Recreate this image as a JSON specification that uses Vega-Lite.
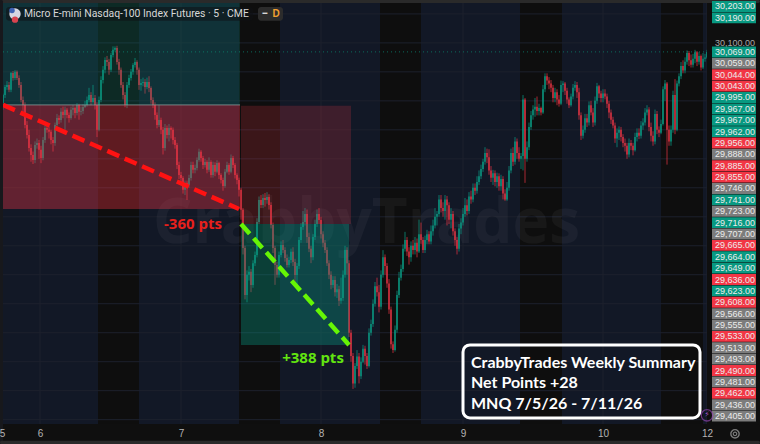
{"$schema":"https://vega.github.io/schema/vega-lite/v6.json","width":760,"height":444,"padding":0,"autosize":"none","background":"#0e0e10","view":{"stroke":null},
"datasets":{
"candles":[
{"t":6,"o":29893,"h":29925,"l":29870,"c":29920},{"t":10,"o":29920,"h":29955,"l":29910,"c":29948},{"t":14,"o":29948,"h":29968,"l":29938,"c":29955},{"t":18,"o":29955,"h":29965,"l":29930,"c":29938},{"t":22,"o":29938,"h":30000,"l":29930,"c":29996},{"t":26,"o":29996,"h":30003,"l":29970,"c":29979},{"t":30,"o":29979,"h":30006,"l":29972,"c":30000},{"t":34,"o":30000,"h":30005,"l":29972,"c":29979},{"t":38,"o":29979,"h":29988,"l":29945,"c":29955},{"t":42,"o":29955,"h":29965,"l":29895,"c":29903},{"t":46,"o":29903,"h":29915,"l":29860,"c":29886},{"t":50,"o":29886,"h":29895,"l":29805,"c":29817},{"t":54,"o":29817,"h":29830,"l":29770,"c":29782},{"t":58,"o":29782,"h":29800,"l":29725,"c":29737},{"t":62,"o":29737,"h":29750,"l":29690,"c":29713},{"t":66,"o":29713,"h":29725,"l":29682,"c":29696},{"t":70,"o":29696,"h":29760,"l":29685,"c":29748},{"t":74,"o":29748,"h":29770,"l":29735,"c":29755},{"t":78,"o":29755,"h":29765,"l":29700,"c":29731},{"t":82,"o":29731,"h":29745,"l":29685,"c":29703},{"t":86,"o":29703,"h":29775,"l":29695,"c":29765},{"t":90,"o":29765,"h":29815,"l":29755,"c":29806},{"t":94,"o":29806,"h":29820,"l":29790,"c":29800},{"t":98,"o":29800,"h":29812,"l":29770,"c":29793},{"t":102,"o":29793,"h":29800,"l":29750,"c":29765},{"t":106,"o":29765,"h":29775,"l":29725,"c":29755},{"t":110,"o":29755,"h":29825,"l":29745,"c":29817},{"t":114,"o":29817,"h":29855,"l":29810,"c":29841},{"t":118,"o":29841,"h":29850,"l":29820,"c":29834},{"t":122,"o":29834,"h":29875,"l":29825,"c":29862},{"t":126,"o":29862,"h":29880,"l":29840,"c":29851},{"t":130,"o":29851,"h":29880,"l":29800,"c":29869},{"t":134,"o":29869,"h":29875,"l":29840,"c":29851},{"t":138,"o":29851,"h":29860,"l":29825,"c":29841},{"t":142,"o":29841,"h":29880,"l":29835,"c":29869},{"t":146,"o":29869,"h":29885,"l":29850,"c":29875},{"t":150,"o":29875,"h":29880,"l":29840,"c":29858},{"t":154,"o":29858,"h":29892,"l":29850,"c":29886},{"t":158,"o":29886,"h":29890,"l":29835,"c":29862},{"t":162,"o":29862,"h":29880,"l":29850,"c":29865},{"t":166,"o":29865,"h":29888,"l":29855,"c":29879},{"t":170,"o":29879,"h":29900,"l":29875,"c":29886},{"t":174,"o":29886,"h":29915,"l":29880,"c":29903},{"t":178,"o":29903,"h":29945,"l":29895,"c":29920},{"t":182,"o":29920,"h":29930,"l":29885,"c":29896},{"t":186,"o":29896,"h":29955,"l":29890,"c":29910},{"t":190,"o":29910,"h":29920,"l":29870,"c":29886},{"t":194,"o":29886,"h":29895,"l":29775,"c":29800},{"t":198,"o":29800,"h":29915,"l":29795,"c":29903},{"t":202,"o":29903,"h":29985,"l":29895,"c":29972},{"t":206,"o":29972,"h":30020,"l":29960,"c":30007},{"t":210,"o":30007,"h":30050,"l":29995,"c":30041},{"t":214,"o":30041,"h":30055,"l":30020,"c":30034},{"t":218,"o":30034,"h":30045,"l":29990,"c":30007},{"t":222,"o":30007,"h":30065,"l":30000,"c":30058},{"t":226,"o":30058,"h":30088,"l":30050,"c":30076},{"t":230,"o":30076,"h":30088,"l":30070,"c":30082},{"t":234,"o":30082,"h":30090,"l":30025,"c":30034},{"t":238,"o":30034,"h":30045,"l":29990,"c":30007},{"t":242,"o":30007,"h":30015,"l":29945,"c":29955},{"t":246,"o":29955,"h":29965,"l":29905,"c":29920},{"t":250,"o":29920,"h":29930,"l":29878,"c":29886},{"t":254,"o":29886,"h":29965,"l":29875,"c":29955},{"t":258,"o":29955,"h":29990,"l":29945,"c":29979},{"t":262,"o":29979,"h":30010,"l":29970,"c":30000},{"t":266,"o":30000,"h":30030,"l":29990,"c":30024},{"t":270,"o":30024,"h":30048,"l":30015,"c":30034},{"t":274,"o":30034,"h":30040,"l":29990,"c":30007},{"t":278,"o":30007,"h":30015,"l":29938,"c":29955},{"t":282,"o":29955,"h":29975,"l":29935,"c":29962},{"t":286,"o":29962,"h":29980,"l":29950,"c":29965},{"t":290,"o":29965,"h":29975,"l":29925,"c":29948},{"t":294,"o":29948,"h":29980,"l":29940,"c":29965},{"t":298,"o":29965,"h":29985,"l":29930,"c":29944},{"t":302,"o":29944,"h":29950,"l":29890,"c":29903},{"t":306,"o":29903,"h":29912,"l":29875,"c":29886},{"t":310,"o":29886,"h":29895,"l":29835,"c":29851},{"t":314,"o":29851,"h":29860,"l":29805,"c":29817},{"t":318,"o":29817,"h":29885,"l":29810,"c":29834},{"t":322,"o":29834,"h":29842,"l":29785,"c":29800},{"t":326,"o":29800,"h":29810,"l":29715,"c":29737},{"t":330,"o":29737,"h":29820,"l":29728,"c":29806},{"t":334,"o":29806,"h":29815,"l":29770,"c":29782},{"t":338,"o":29782,"h":29820,"l":29760,"c":29806},{"t":342,"o":29806,"h":29812,"l":29770,"c":29800},{"t":346,"o":29800,"h":29808,"l":29750,"c":29765},{"t":350,"o":29765,"h":29775,"l":29735,"c":29748},{"t":354,"o":29748,"h":29755,"l":29665,"c":29679},{"t":358,"o":29679,"h":29690,"l":29630,"c":29644},{"t":362,"o":29644,"h":29655,"l":29610,"c":29634},{"t":366,"o":29634,"h":29640,"l":29580,"c":29593},{"t":370,"o":29593,"h":29625,"l":29575,"c":29617},{"t":374,"o":29617,"h":29625,"l":29558,"c":29610},{"t":378,"o":29610,"h":29645,"l":29600,"c":29634},{"t":382,"o":29634,"h":29690,"l":29625,"c":29679},{"t":386,"o":29679,"h":29690,"l":29650,"c":29662},{"t":390,"o":29662,"h":29680,"l":29650,"c":29668},{"t":394,"o":29668,"h":29705,"l":29660,"c":29696},{"t":398,"o":29696,"h":29735,"l":29690,"c":29724},{"t":402,"o":29724,"h":29730,"l":29690,"c":29703},{"t":406,"o":29703,"h":29710,"l":29665,"c":29679},{"t":410,"o":29679,"h":29700,"l":29670,"c":29689},{"t":414,"o":29689,"h":29695,"l":29650,"c":29662},{"t":418,"o":29662,"h":29705,"l":29655,"c":29689},{"t":422,"o":29689,"h":29695,"l":29635,"c":29644},{"t":426,"o":29644,"h":29690,"l":29635,"c":29679},{"t":430,"o":29679,"h":29688,"l":29640,"c":29655},{"t":434,"o":29655,"h":29695,"l":29650,"c":29686},{"t":438,"o":29686,"h":29690,"l":29630,"c":29644},{"t":442,"o":29644,"h":29650,"l":29615,"c":29627},{"t":446,"o":29627,"h":29635,"l":29590,"c":29606},{"t":450,"o":29606,"h":29665,"l":29600,"c":29655},{"t":454,"o":29655,"h":29690,"l":29650,"c":29679},{"t":458,"o":29679,"h":29685,"l":29645,"c":29655},{"t":462,"o":29655,"h":29715,"l":29650,"c":29703},{"t":466,"o":29703,"h":29710,"l":29668,"c":29679},{"t":470,"o":29679,"h":29685,"l":29632,"c":29644},{"t":474,"o":29644,"h":29650,"l":29612,"c":29627},{"t":478,"o":29627,"h":29635,"l":29570,"c":29593},
{"t":482,"o":29593,"h":29600,"l":29490,"c":29524},{"t":486,"o":29524,"h":29530,"l":29370,"c":29392},{"t":490,"o":29392,"h":29400,"l":29215,"c":29230},{"t":494,"o":29230,"h":29315,"l":29205,"c":29300},{"t":498,"o":29300,"h":29330,"l":29280,"c":29310},{"t":502,"o":29310,"h":29320,"l":29240,"c":29265},{"t":506,"o":29265,"h":29350,"l":29255,"c":29340},{"t":510,"o":29340,"h":29380,"l":29330,"c":29368},{"t":514,"o":29368,"h":29495,"l":29360,"c":29482},{"t":518,"o":29482,"h":29570,"l":29475,"c":29558},{"t":522,"o":29558,"h":29575,"l":29530,"c":29541},{"t":526,"o":29541,"h":29578,"l":29530,"c":29565},{"t":530,"o":29565,"h":29582,"l":29535,"c":29558},{"t":534,"o":29558,"h":29585,"l":29545,"c":29568},{"t":538,"o":29568,"h":29578,"l":29525,"c":29541},{"t":542,"o":29541,"h":29550,"l":29460,"c":29472},{"t":546,"o":29472,"h":29480,"l":29375,"c":29392},{"t":550,"o":29392,"h":29400,"l":29265,"c":29334},{"t":554,"o":29334,"h":29345,"l":29290,"c":29300},{"t":558,"o":29300,"h":29380,"l":29290,"c":29368},{"t":562,"o":29368,"h":29415,"l":29360,"c":29403},{"t":566,"o":29403,"h":29420,"l":29375,"c":29385},{"t":570,"o":29385,"h":29395,"l":29345,"c":29358},{"t":574,"o":29358,"h":29370,"l":29325,"c":29334},{"t":578,"o":29334,"h":29362,"l":29325,"c":29351},{"t":582,"o":29351,"h":29390,"l":29340,"c":29379},{"t":586,"o":29379,"h":29395,"l":29330,"c":29344},{"t":590,"o":29344,"h":29355,"l":29270,"c":29299},{"t":594,"o":29299,"h":29340,"l":29265,"c":29330},{"t":598,"o":29330,"h":29430,"l":29320,"c":29420},{"t":602,"o":29420,"h":29478,"l":29410,"c":29465},{"t":606,"o":29465,"h":29520,"l":29455,"c":29482},{"t":610,"o":29482,"h":29530,"l":29470,"c":29510},{"t":614,"o":29510,"h":29525,"l":29410,"c":29430},{"t":618,"o":29430,"h":29445,"l":29378,"c":29390},{"t":622,"o":29390,"h":29400,"l":29340,"c":29360},{"t":626,"o":29360,"h":29440,"l":29350,"c":29430},{"t":630,"o":29430,"h":29490,"l":29420,"c":29475},{"t":634,"o":29475,"h":29525,"l":29465,"c":29510},{"t":638,"o":29510,"h":29530,"l":29475,"c":29489},{"t":642,"o":29489,"h":29500,"l":29425,"c":29440},{"t":646,"o":29440,"h":29450,"l":29395,"c":29410},{"t":650,"o":29410,"h":29420,"l":29375,"c":29385},{"t":654,"o":29385,"h":29395,"l":29330,"c":29340},{"t":658,"o":29340,"h":29350,"l":29285,"c":29300},{"t":662,"o":29300,"h":29312,"l":29250,"c":29265},{"t":666,"o":29265,"h":29295,"l":29255,"c":29282},{"t":670,"o":29282,"h":29295,"l":29225,"c":29240},{"t":674,"o":29240,"h":29268,"l":29220,"c":29250},{"t":678,"o":29250,"h":29262,"l":29192,"c":29210},{"t":682,"o":29210,"h":29290,"l":29200,"c":29220},{"t":686,"o":29220,"h":29315,"l":29210,"c":29300},{"t":690,"o":29300,"h":29400,"l":29290,"c":29385},{"t":694,"o":29385,"h":29395,"l":29300,"c":29340},{"t":698,"o":29340,"h":29350,"l":29085,"c":29100},{"t":702,"o":29100,"h":29110,"l":29000,"c":29020},{"t":706,"o":29020,"h":29030,"l":28906,"c":28925},{"t":710,"o":28925,"h":28995,"l":28910,"c":28985},{"t":714,"o":28985,"h":29040,"l":28975,"c":29018},{"t":718,"o":29018,"h":29030,"l":28925,"c":28950},{"t":722,"o":28950,"h":29015,"l":28940,"c":29000},{"t":726,"o":29000,"h":29058,"l":28995,"c":29045},{"t":730,"o":29045,"h":29055,"l":28990,"c":29020},{"t":734,"o":29020,"h":29030,"l":28975,"c":28985},{"t":738,"o":28985,"h":29115,"l":28980,"c":29100},{"t":742,"o":29100,"h":29145,"l":29090,"c":29130},{"t":746,"o":29130,"h":29215,"l":29120,"c":29200},{"t":750,"o":29200,"h":29275,"l":29190,"c":29260},{"t":754,"o":29260,"h":29290,"l":29225,"c":29240},{"t":758,"o":29240,"h":29265,"l":29170,"c":29190},{"t":762,"o":29190,"h":29315,"l":29180,"c":29300},{"t":766,"o":29300,"h":29385,"l":29290,"c":29360},{"t":770,"o":29360,"h":29370,"l":29300,"c":29330},{"t":774,"o":29330,"h":29340,"l":29255,"c":29270},{"t":778,"o":29270,"h":29285,"l":29165,"c":29180},{"t":782,"o":29180,"h":29190,"l":29045,"c":29060},{"t":786,"o":29060,"h":29070,"l":29030,"c":29040},{"t":790,"o":29040,"h":29125,"l":29035,"c":29110},{"t":794,"o":29110,"h":29245,"l":29100,"c":29230},{"t":798,"o":29230,"h":29310,"l":29220,"c":29290},{"t":802,"o":29290,"h":29335,"l":29280,"c":29320},{"t":806,"o":29320,"h":29405,"l":29310,"c":29390},{"t":810,"o":29390,"h":29448,"l":29380,"c":29420},{"t":814,"o":29420,"h":29430,"l":29365,"c":29380},{"t":818,"o":29380,"h":29395,"l":29335,"c":29360},{"t":822,"o":29360,"h":29415,"l":29345,"c":29400},{"t":826,"o":29400,"h":29420,"l":29370,"c":29385},{"t":830,"o":29385,"h":29430,"l":29370,"c":29410},{"t":834,"o":29410,"h":29425,"l":29360,"c":29380},{"t":838,"o":29380,"h":29490,"l":29375,"c":29440},{"t":842,"o":29440,"h":29480,"l":29405,"c":29420},{"t":846,"o":29420,"h":29430,"l":29375,"c":29385},{"t":850,"o":29385,"h":29435,"l":29375,"c":29420},{"t":854,"o":29420,"h":29455,"l":29405,"c":29440},{"t":858,"o":29440,"h":29450,"l":29405,"c":29415},{"t":862,"o":29415,"h":29470,"l":29405,"c":29450},{"t":866,"o":29450,"h":29490,"l":29435,"c":29470},{"t":870,"o":29470,"h":29530,"l":29460,"c":29500},{"t":874,"o":29500,"h":29520,"l":29470,"c":29510},{"t":878,"o":29510,"h":29575,"l":29500,"c":29560},{"t":882,"o":29560,"h":29575,"l":29515,"c":29530},{"t":886,"o":29530,"h":29550,"l":29500,"c":29520},{"t":890,"o":29520,"h":29575,"l":29490,"c":29560},{"t":894,"o":29560,"h":29572,"l":29470,"c":29540},{"t":898,"o":29540,"h":29550,"l":29475,"c":29490},{"t":902,"o":29490,"h":29530,"l":29460,"c":29510},{"t":906,"o":29510,"h":29520,"l":29435,"c":29450},{"t":910,"o":29450,"h":29460,"l":29400,"c":29420},{"t":914,"o":29420,"h":29430,"l":29370,"c":29390},{"t":918,"o":29390,"h":29475,"l":29380,"c":29460},{"t":922,"o":29460,"h":29495,"l":29440,"c":29480},{"t":926,"o":29480,"h":29530,"l":29470,"c":29510},{"t":930,"o":29510,"h":29565,"l":29500,"c":29540},{"t":934,"o":29540,"h":29560,"l":29505,"c":29520},{"t":938,"o":29520,"h":29585,"l":29510,"c":29570},{"t":942,"o":29570,"h":29590,"l":29545,"c":29560},{"t":946,"o":29560,"h":29615,"l":29550,"c":29600},{"t":950,"o":29600,"h":29615,"l":29575,"c":29590},{"t":954,"o":29590,"h":29640,"l":29580,"c":29620},{"t":958,"o":29620,"h":29660,"l":29610,"c":29640},{"t":962,"o":29640,"h":29680,"l":29630,"c":29665},{"t":966,"o":29665,"h":29700,"l":29655,"c":29690},{"t":970,"o":29690,"h":29740,"l":29680,"c":29720},{"t":974,"o":29720,"h":29735,"l":29685,"c":29705},{"t":978,"o":29705,"h":29733,"l":29645,"c":29660},{"t":982,"o":29660,"h":29675,"l":29620,"c":29635},{"t":986,"o":29635,"h":29662,"l":29610,"c":29650},{"t":990,"o":29650,"h":29660,"l":29605,"c":29620},{"t":994,"o":29620,"h":29652,"l":29600,"c":29640},{"t":998,"o":29640,"h":29650,"l":29590,"c":29605},{"t":1002,"o":29605,"h":29645,"l":29590,"c":29630},{"t":1006,"o":29630,"h":29640,"l":29560,"c":29580},{"t":1010,"o":29580,"h":29595,"l":29555,"c":29560},{"t":1014,"o":29560,"h":29620,"l":29555,"c":29600},{"t":1018,"o":29600,"h":29675,"l":29590,"c":29660},{"t":1022,"o":29660,"h":29735,"l":29650,"c":29720},{"t":1026,"o":29720,"h":29740,"l":29675,"c":29690},{"t":1030,"o":29690,"h":29775,"l":29680,"c":29760},{"t":1034,"o":29760,"h":29770,"l":29700,"c":29720},{"t":1038,"o":29720,"h":29740,"l":29690,"c":29700},{"t":1042,"o":29700,"h":29720,"l":29665,"c":29710},{"t":1046,"o":29710,"h":29920,"l":29660,"c":29905},{"t":1050,"o":29905,"h":29910,"l":29617,"c":29700},{"t":1054,"o":29700,"h":29760,"l":29690,"c":29740},{"t":1058,"o":29740,"h":29825,"l":29730,"c":29810},{"t":1062,"o":29810,"h":29865,"l":29800,"c":29850},{"t":1066,"o":29850,"h":29885,"l":29835,"c":29870},{"t":1070,"o":29870,"h":29910,"l":29845,"c":29880},{"t":1074,"o":29880,"h":29915,"l":29850,"c":29865},{"t":1078,"o":29865,"h":29890,"l":29850,"c":29875},{"t":1082,"o":29875,"h":29880,"l":29850,"c":29860},{"t":1086,"o":29860,"h":29955,"l":29855,"c":29940},{"t":1090,"o":29940,"h":29995,"l":29930,"c":29985},{"t":1094,"o":29985,"h":29995,"l":29955,"c":29970},{"t":1098,"o":29970,"h":29982,"l":29940,"c":29960},{"t":1102,"o":29960,"h":29972,"l":29930,"c":29945},{"t":1106,"o":29945,"h":29955,"l":29895,"c":29910},{"t":1110,"o":29910,"h":29945,"l":29895,"c":29930},{"t":1114,"o":29930,"h":29940,"l":29885,"c":29905},{"t":1118,"o":29905,"h":29920,"l":29880,"c":29890},{"t":1122,"o":29890,"h":29970,"l":29885,"c":29955},{"t":1126,"o":29955,"h":29968,"l":29930,"c":29960},{"t":1130,"o":29960,"h":29965,"l":29920,"c":29935},{"t":1134,"o":29935,"h":29945,"l":29890,"c":29905},{"t":1138,"o":29905,"h":29912,"l":29875,"c":29885},{"t":1142,"o":29885,"h":29925,"l":29880,"c":29915},{"t":1146,"o":29915,"h":29958,"l":29905,"c":29945},{"t":1150,"o":29945,"h":29968,"l":29935,"c":29955},{"t":1154,"o":29955,"h":29965,"l":29910,"c":29930},{"t":1158,"o":29930,"h":29945,"l":29835,"c":29850},{"t":1162,"o":29850,"h":29860,"l":29765,"c":29780},{"t":1166,"o":29780,"h":29815,"l":29770,"c":29800},{"t":1170,"o":29800,"h":29855,"l":29790,"c":29840},{"t":1174,"o":29840,"h":29855,"l":29810,"c":29825},{"t":1178,"o":29825,"h":29898,"l":29815,"c":29885},{"t":1182,"o":29885,"h":29900,"l":29850,"c":29860},{"t":1186,"o":29860,"h":29875,"l":29810,"c":29825},{"t":1190,"o":29825,"h":29915,"l":29815,"c":29900},{"t":1194,"o":29900,"h":29962,"l":29890,"c":29950},{"t":1198,"o":29950,"h":29955,"l":29910,"c":29925},{"t":1202,"o":29925,"h":29935,"l":29895,"c":29910},{"t":1206,"o":29910,"h":29940,"l":29895,"c":29925},{"t":1210,"o":29925,"h":29940,"l":29905,"c":29915},{"t":1214,"o":29915,"h":29925,"l":29875,"c":29890},{"t":1218,"o":29890,"h":29900,"l":29840,"c":29860},{"t":1222,"o":29860,"h":29870,"l":29820,"c":29835},{"t":1226,"o":29835,"h":29845,"l":29805,"c":29815},{"t":1230,"o":29815,"h":29825,"l":29755,"c":29770},{"t":1234,"o":29770,"h":29805,"l":29740,"c":29790},{"t":1238,"o":29790,"h":29812,"l":29765,"c":29800},{"t":1242,"o":29800,"h":29810,"l":29760,"c":29775},{"t":1246,"o":29775,"h":29785,"l":29740,"c":29755},{"t":1250,"o":29755,"h":29770,"l":29725,"c":29745},{"t":1254,"o":29745,"h":29755,"l":29700,"c":29715},{"t":1258,"o":29715,"h":29770,"l":29705,"c":29755},{"t":1262,"o":29755,"h":29765,"l":29730,"c":29745},{"t":1266,"o":29745,"h":29755,"l":29712,"c":29730},{"t":1270,"o":29730,"h":29790,"l":29725,"c":29775},{"t":1274,"o":29775,"h":29805,"l":29760,"c":29790},{"t":1278,"o":29790,"h":29805,"l":29768,"c":29780},{"t":1282,"o":29780,"h":29830,"l":29770,"c":29815},{"t":1286,"o":29815,"h":29840,"l":29800,"c":29825},{"t":1290,"o":29825,"h":29875,"l":29815,"c":29860},{"t":1294,"o":29860,"h":29885,"l":29850,"c":29870},{"t":1298,"o":29870,"h":29878,"l":29795,"c":29810},{"t":1302,"o":29810,"h":29825,"l":29760,"c":29780},{"t":1306,"o":29780,"h":29795,"l":29745,"c":29760},{"t":1310,"o":29760,"h":29870,"l":29750,"c":29855},{"t":1314,"o":29855,"h":29865,"l":29785,"c":29800},{"t":1318,"o":29800,"h":29812,"l":29775,"c":29790},{"t":1322,"o":29790,"h":29835,"l":29785,"c":29820},{"t":1326,"o":29820,"h":29950,"l":29815,"c":29940},{"t":1330,"o":29940,"h":29972,"l":29900,"c":29960},{"t":1334,"o":29960,"h":29965,"l":29680,"c":29800},{"t":1338,"o":29800,"h":29815,"l":29745,"c":29760},{"t":1342,"o":29760,"h":29815,"l":29745,"c":29800},{"t":1346,"o":29800,"h":29935,"l":29790,"c":29920},{"t":1350,"o":29920,"h":29975,"l":29785,"c":29800},{"t":1354,"o":29800,"h":29970,"l":29795,"c":29960},{"t":1358,"o":29960,"h":29995,"l":29950,"c":29985},{"t":1362,"o":29985,"h":30034,"l":29975,"c":30020},{"t":1366,"o":30020,"h":30040,"l":29995,"c":30005},{"t":1370,"o":30005,"h":30050,"l":29995,"c":30035},{"t":1374,"o":30035,"h":30074,"l":30025,"c":30065},{"t":1378,"o":30065,"h":30072,"l":30020,"c":30040},{"t":1382,"o":30040,"h":30060,"l":30015,"c":30025},{"t":1386,"o":30025,"h":30062,"l":30015,"c":30045},{"t":1390,"o":30045,"h":30076,"l":30030,"c":30068},{"t":1394,"o":30068,"h":30072,"l":30020,"c":30035},{"t":1398,"o":30035,"h":30068,"l":30025,"c":30055},{"t":1402,"o":30055,"h":30060,"l":30005,"c":30015},{"t":1406,"o":30015,"h":30065,"l":30010,"c":30045},{"t":1410,"o":30045,"h":30062,"l":30035,"c":30050},{"t":1414,"o":30050,"h":30076,"l":30045,"c":30069}],
"quotes":[{"s":"30,203.00","n":-4,"k":"up"},{"s":"30,190.00","n":-3,"k":"up"},{"s":"30,069.00","n":0,"k":"up"},{"s":"30,059.00","n":1,"k":"flat"},{"s":"30,044.00","n":2,"k":"down"},{"s":"30,043.00","n":3,"k":"down"},{"s":"29,995.00","n":4,"k":"up"},{"s":"29,967.00","n":5,"k":"up"},{"s":"29,967.00","n":6,"k":"up"},{"s":"29,962.00","n":7,"k":"up"},{"s":"29,956.00","n":8,"k":"down"},{"s":"29,888.00","n":9,"k":"flat"},{"s":"29,885.00","n":10,"k":"down"},{"s":"29,855.00","n":11,"k":"down"},{"s":"29,746.00","n":12,"k":"flat"},{"s":"29,741.00","n":13,"k":"up"},{"s":"29,723.00","n":14,"k":"flat"},{"s":"29,716.00","n":15,"k":"up"},{"s":"29,707.00","n":16,"k":"flat"},{"s":"29,665.00","n":17,"k":"down"},{"s":"29,664.00","n":18,"k":"up"},{"s":"29,649.00","n":19,"k":"up"},{"s":"29,636.00","n":20,"k":"down"},{"s":"29,623.00","n":21,"k":"up"},{"s":"29,608.00","n":22,"k":"down"},{"s":"29,566.00","n":23,"k":"flat"},{"s":"29,555.00","n":24,"k":"flat"},{"s":"29,533.00","n":25,"k":"down"},{"s":"29,513.00","n":26,"k":"flat"},{"s":"29,493.00","n":27,"k":"flat"},{"s":"29,490.00","n":28,"k":"down"},{"s":"29,481.00","n":29,"k":"flat"},{"s":"29,462.00","n":30,"k":"down"},{"s":"29,436.00","n":31,"k":"flat"},{"s":"29,405.00","n":32,"k":"flat"}]
},
"encoding":{
"x":{"field":"t","type":"quantitative","scale":{"domain":[0,1520],"nice":false,"zero":false},"axis":{"values":[4,80,362,642,926,1206,1414],"labelExpr":"datum.value==4?'5':datum.value==80?'6':datum.value==362?'7':datum.value==642?'8':datum.value==926?'9':datum.value==1206?'10':'12'","grid":false,"domain":false,"ticks":false,"title":null,"offset":-20,"labelPadding":4,"labelColor":"#b4b4b4","labelFontSize":10,"labelFont":"Liberation Sans","labelBound":false,"labelFlush":false,"labelOverlap":false,"zindex":1}},
"y":{"field":"p","type":"quantitative","scale":{"domain":[28716,30248],"nice":false,"zero":false},"axis":null},
"color":{"field":"k","type":"nominal","legend":null,"scale":{"domain":["session","closed","gain","loss","loss2","gain2","lossTrade","winTrade","up","down","flat","strip","top","left","titleBg","pill","grid","dot","edge"],"range":["#121826","#0e0e0e","rgba(8,153,129,0.2)","rgba(242,54,69,0.36)","rgba(242,54,69,0.2)","rgba(8,153,129,0.36)","#ff1212","#66f505","#089981","#f23645","#7c7c7c","#0f0f0f","#2a2a2a","#17181c","rgba(14,16,20,0.55)","#2c2c2c","#1d212d","#0b6b5c","#8a9a99"]}}
},
"resolve":{"scale":{"y":"independent"}},
"layer":[
{"data":{"values":[{"t":6,"e":196,"k":"session"},{"t":196,"e":278,"k":"closed"},{"t":278,"e":478,"k":"session"},{"t":478,"e":560,"k":"closed"},{"t":560,"e":760,"k":"session"},{"t":760,"e":842,"k":"closed"},{"t":842,"e":1040,"k":"session"},{"t":1040,"e":1124,"k":"closed"},{"t":1124,"e":1322,"k":"session"},{"t":1322,"e":1406,"k":"closed"},{"t":1406,"e":1414,"k":"session"}],"format":{"type":"json"}},"mark":{"type":"rect"},"encoding":{"x2":{"field":"e"},"y":null}},
{"data":{"values":[{"p":30200,"k":"grid"},{"p":30100,"k":"grid"},{"p":30000,"k":"grid"},{"p":29900,"k":"grid"},{"p":29800,"k":"grid"},{"p":29700,"k":"grid"},{"p":29600,"k":"grid"},{"p":29500,"k":"grid"},{"p":29400,"k":"grid"},{"p":29300,"k":"grid"},{"p":29200,"k":"grid"},{"p":29100,"k":"grid"},{"p":29000,"k":"grid"},{"p":28900,"k":"grid"},{"p":28800,"k":"grid"}]},"mark":{"type":"rule","strokeWidth":1},"encoding":{"x":null}},
{"data":{"values":[{"t":80,"k":"grid"},{"t":362,"k":"grid"},{"t":642,"k":"grid"},{"t":926,"k":"grid"},{"t":1206,"k":"grid"},{"t":1414,"k":"grid"}]},"mark":{"type":"rule","strokeWidth":1},"encoding":{"y":null}},
{"data":{"values":[{"p":30069,"k":"dot"}]},"mark":{"type":"rule","strokeWidth":1,"strokeDash":[1,3]},"encoding":{"x":null}},
{"data":{"values":[{"t":733,"p":29474,"s":"CrabbyTrades"}]},"mark":{"type":"text","font":"Open Sans","fontWeight":"bold","fontSize":62,"opacity":0.04,"align":"center","baseline":"middle"},"encoding":{"text":{"field":"s"},"color":{"value":"#ffffff"}}},
{"data":{"name":"candles"},"mark":{"type":"rule","strokeWidth":0.8,"opacity":0.85},"encoding":{"y":{"field":"l","type":"quantitative","scale":{"domain":[28716,30248],"nice":false,"zero":false},"axis":null},"y2":{"field":"h"},"color":{"condition":{"test":"datum.c>=datum.o","value":"#0aa58b"},"value":"#f23645"}}},
{"data":{"name":"candles"},"mark":{"type":"rule","strokeWidth":1.2,"opacity":1},"encoding":{"y":{"field":"o","type":"quantitative","scale":{"domain":[28716,30248],"nice":false,"zero":false},"axis":null},"y2":{"field":"c"},"color":{"condition":{"test":"datum.c>=datum.o","value":"#0aa58b"},"value":"#f23645"}}},
{"data":{"values":[{"t":6,"e":480,"lo":29886,"hi":30238,"k":"gain"},{"t":6,"e":480,"lo":29527,"hi":29886,"k":"loss"},{"t":482,"e":702,"lo":29475,"hi":29883,"k":"loss2"},{"t":482,"e":698,"lo":29058,"hi":29475,"k":"gain2"}]},"mark":{"type":"rect"},"encoding":{"x2":{"field":"e"},"y":{"field":"lo","type":"quantitative","scale":{"domain":[28716,30248],"nice":false,"zero":false},"axis":null},"y2":{"field":"hi"}}},
{"data":{"values":[{"t":6,"e":480,"p":29886,"k":"edge"}]},"mark":{"type":"rule","strokeWidth":1,"opacity":0.8},"encoding":{"x2":{"field":"e"}}},
{"data":{"values":[{"t":6,"p":29886,"k":"lossTrade"},{"t":478,"p":29527,"k":"lossTrade"},{"t":482,"p":29475,"k":"winTrade"},{"t":698,"p":29058,"k":"winTrade"}]},"mark":{"type":"line","strokeWidth":4.5,"strokeDash":[13,6]},"encoding":{}},
{"data":{"values":[{"t":1414,"e":1520,"lo":28716,"hi":30248,"k":"strip"},{"t":0,"e":1520,"lo":28716,"hi":28785,"k":"strip"},{"t":0,"e":1520,"lo":30238,"hi":30248,"k":"top"},{"t":0,"e":6,"lo":28716,"hi":30248,"k":"left"},{"t":0,"e":1520,"lo":28716,"hi":28727,"k":"top"},{"t":12,"e":506,"lo":30176,"hi":30224,"k":"titleBg"},{"t":516,"e":566,"lo":30176,"hi":30224,"k":"pill"}]},"mark":{"type":"rect","cornerRadius":3},"encoding":{"x2":{"field":"e"},"y":{"field":"lo","type":"quantitative","scale":{"domain":[28716,30248],"nice":false,"zero":false},"axis":null},"y2":{"field":"hi"}}},
{"data":{"name":"quotes"},"transform":[{"calculate":"1424","as":"t"},{"calculate":"1512","as":"e"}],"mark":{"type":"rule","strokeWidth":10.9},"encoding":{"x2":{"field":"e"},"y":{"field":"n","type":"ordinal","sort":null,"axis":null,"scale":{"type":"point","domain":[-4,-3,-2,-1,0,1,2,3,4,5,6,7,8,9,10,11,12,13,14,15,16,17,18,19,20,21,22,23,24,25,26,27,28,29,30,31,32],"range":[0.8,421.7],"padding":0.5}}}},
{"data":{"name":"quotes"},"transform":[{"calculate":"1470","as":"t"}],"mark":{"type":"text","font":"Liberation Sans","fontSize":9,"align":"center","baseline":"middle"},"encoding":{"y":{"field":"n","type":"ordinal","sort":null,"axis":null,"scale":{"type":"point","domain":[-4,-3,-2,-1,0,1,2,3,4,5,6,7,8,9,10,11,12,13,14,15,16,17,18,19,20,21,22,23,24,25,26,27,28,29,30,31,32],"range":[0.8,421.7],"padding":0.5}},"text":{"field":"s"},"color":{"value":"#ececec"}}},
{"data":{"values":[{"t":1470,"p":30100,"s":"30,100.00"}]},"mark":{"type":"text","font":"Liberation Sans","fontSize":9,"align":"center","baseline":"middle"},"encoding":{"text":{"field":"s"},"color":{"value":"#a8a8a8"}}},
{"data":{"values":[{"t":48,"p":30200,"s":"Micro E-mini Nasdaq-100 Index Futures · 5 · CME"}]},"mark":{"type":"text","font":"Roboto","fontSize":10.4,"align":"left","baseline":"middle"},"encoding":{"text":{"field":"s"},"color":{"value":"#d8d8d8"}}},
{"data":{"values":[{"t":552,"p":30200,"s":"D"}]},"mark":{"type":"text","font":"Liberation Sans","fontWeight":"bold","fontSize":10,"align":"center","baseline":"middle"},"encoding":{"text":{"field":"s"},"color":{"value":"#f0a030"}}},
{"data":{"values":[{"t":530,"p":30200,"s":"━"}]},"mark":{"type":"text","font":"DejaVu Sans","fontSize":8,"align":"center","baseline":"middle"},"encoding":{"text":{"field":"s"},"color":{"value":"#d8d8d8"}}},
{"data":{"values":[{"t":30,"p":30200}]},"mark":{"type":"point","filled":true,"size":130,"opacity":1},"encoding":{"color":{"value":"#d6d6e2"}}},
{"data":{"values":[{"t":30,"p":30180}]},"mark":{"type":"point","filled":true,"size":40,"opacity":1},"encoding":{"color":{"value":"#d8434f"}}},
{"data":{"values":[{"t":24,"p":30212}]},"mark":{"type":"point","filled":true,"size":30,"opacity":1},"encoding":{"color":{"value":"#3f62b5"}}},
{"data":{"values":[{"t":386,"p":29474,"s":"-360 pts"}]},"mark":{"type":"text","font":"Open Sans","fontWeight":"bold","fontSize":15,"align":"center","baseline":"middle"},"encoding":{"text":{"field":"s"},"color":{"value":"#e8201c"}}},
{"data":{"values":[{"t":626,"p":29014,"s":"+388 pts"}]},"mark":{"type":"text","font":"Open Sans","fontWeight":"bold","fontSize":15,"align":"center","baseline":"middle"},"encoding":{"text":{"field":"s"},"color":{"value":"#62e510"}}},
{"data":{"values":[{"t":926,"e":1400,"lo":28806,"hi":29058}]},"mark":{"type":"rect","fill":null,"stroke":"#ffffff","strokeWidth":3,"cornerRadius":7},"encoding":{"x2":{"field":"e"},"y":{"field":"lo","type":"quantitative","scale":{"domain":[28716,30248],"nice":false,"zero":false},"axis":null},"y2":{"field":"hi"},"color":{"value":null}}},
{"data":{"values":[{"t":942,"p":28997,"s":"CrabbyTrades Weekly Summary"},{"t":942,"p":28926,"s":"Net Points +28"},{"t":942,"p":28854,"s":"MNQ  7/5/26 - 7/11/26"}]},"mark":{"type":"text","font":"Lato","fontWeight":"bold","fontSize":16,"align":"left","baseline":"middle"},"encoding":{"text":{"field":"s"},"color":{"value":"#ffffff"}}},
{"data":{"values":[{"t":1414,"p":28815}]},"mark":{"type":"point","filled":false,"size":130,"strokeWidth":1.3},"encoding":{"color":{"value":"#8e44ad"}}},
{"data":{"values":[{"t":1414,"p":28815,"s":"⚡"}]},"mark":{"type":"text","font":"DejaVu Sans","fontSize":8,"align":"center","baseline":"middle"},"encoding":{"text":{"field":"s"},"color":{"value":"#a050c0"}}},
{"data":{"values":[{"t":1470,"p":28751}]},"mark":{"type":"point","filled":false,"size":70,"strokeWidth":1.4,"shape":"circle"},"encoding":{"color":{"value":"#a8a8a8"}}},
{"data":{"values":[{"t":1470,"p":28751}]},"mark":{"type":"point","filled":false,"size":12,"strokeWidth":1.2,"shape":"circle"},"encoding":{"color":{"value":"#a8a8a8"}}}
]}
